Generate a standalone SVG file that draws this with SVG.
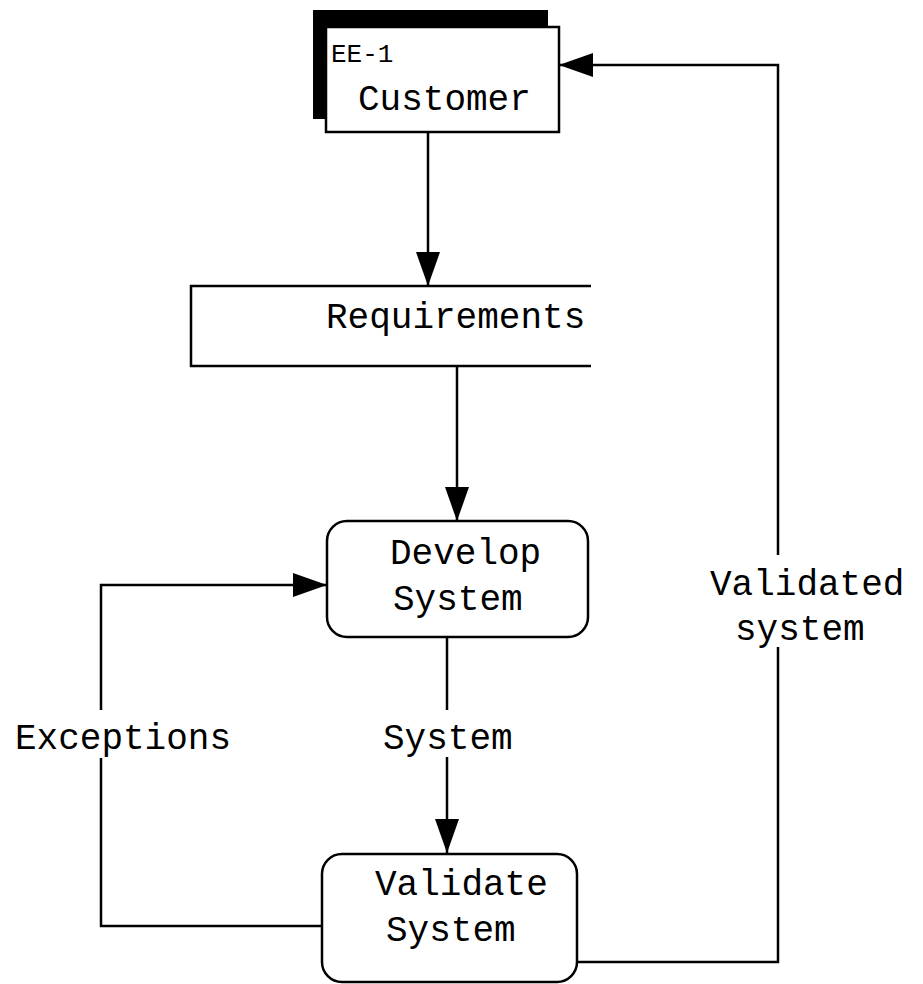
<svg xmlns="http://www.w3.org/2000/svg" width="923" height="984" viewBox="0 0 923 984">
<defs>
<marker id="arr" viewBox="0 0 34 24" refX="34" refY="12" markerWidth="34" markerHeight="24" markerUnits="userSpaceOnUse" orient="auto">
<path d="M0,0 L34,12 L0,24 Z" fill="#000"/>
</marker>
</defs>
<style>
.t{font-family:"Liberation Mono","Courier New",monospace;font-size:36px;fill:#000}
.s{font-family:"Liberation Mono","Courier New",monospace;font-size:26px;fill:#000}
.b{fill:#fff;stroke:#000;stroke-width:2.5}
.c{fill:none;stroke:#000;stroke-width:2.5}
</style>
<rect width="923" height="984" fill="#fff"/>
<g id="customer">
<rect x="313" y="10" width="235" height="109" fill="#000"/>
<rect class="b" x="326" y="27" width="233" height="105"/>
<text class="s" x="331" y="62">EE-1</text>
<text class="t" x="358" y="110">Customer</text>
</g>
<g id="requirements">
<rect x="191" y="286" width="400" height="80" fill="#fff"/>
<path class="c" d="M591,286 H191 V366 H591"/>
<text class="t" x="326" y="328">Requirements</text>
</g>
<g id="develop">
<rect class="b" x="327" y="521" width="261" height="116" rx="20" ry="20"/>
<text class="t" x="390" y="564">Develop</text>
<text class="t" x="393" y="610">System</text>
</g>
<g id="validate">
<rect class="b" x="322" y="854" width="255" height="128" rx="20" ry="20"/>
<text class="t" x="375" y="895">Validate</text>
<text class="t" x="386" y="941">System</text>
</g>
<g id="connectors">
<path class="c" d="M428,132 V286" marker-end="url(#arr)"/>
<path class="c" d="M457,366 V521" marker-end="url(#arr)"/>
<path class="c" d="M447,637 V710"/>
<path class="c" d="M447,757 V853" marker-end="url(#arr)"/>
<path class="c" d="M322,926 H101 V758"/>
<path class="c" d="M101,710 V585 H327" marker-end="url(#arr)"/>
<path class="c" d="M577,962 H778 V647"/>
<path class="c" d="M778,555 V65 H559" marker-end="url(#arr)"/>
<text class="t" x="383" y="749">System</text>
<text class="t" x="15" y="749">Exceptions</text>
<text class="t" x="710" y="595">Validated</text>
<text class="t" x="735" y="640">system</text>
</g>
</svg>
